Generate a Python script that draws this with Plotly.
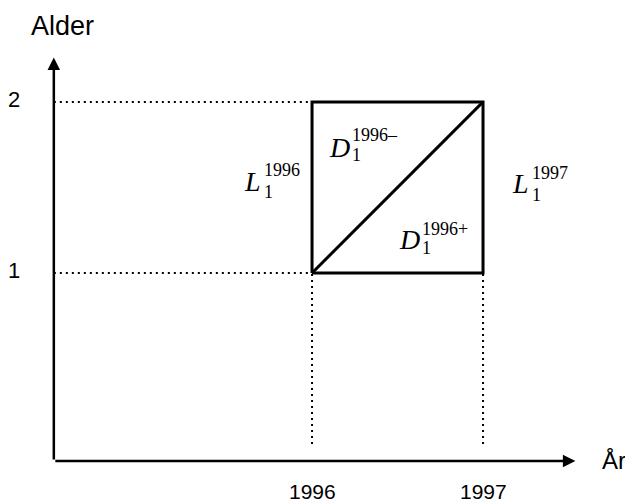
import plotly.graph_objects as go

# --- data ---
years = [1996, 1997]          # x tick values (År)
ages = [1, 2]                 # y tick values (Alder)
year_labels = ["1996", "1997"]
age_labels = ["1", "2"]
axis_origin = [1994.49, -0.10]
axis_end = [1997.54, 2.26]
x_range = [1994.222, 1997.877]
y_range = [-0.339, 2.549]

# Lexis labels: (letter, superscript, x_left, y_mid, sup_shift_x, sup_dy, sub_dy)
lexis_labels = [
    ("L", "1996", 1995.590, 1.5375, 20, 11, -11),
    ("D", "1996\u2013", 1996.088, 1.736, 23, 12, -8),
    ("D", "1996+", 1996.498, 1.195, 23, 11, -8),
    ("L", "1997", 1997.157, 1.523, 20, 11, -11),
]

SANS = "Liberation Sans, Arial, Helvetica, sans-serif"
SERIF = "Liberation Serif, Times New Roman, serif"
BLACK = "#000000"

fig = go.Figure()

# dotted guide lines
dot = dict(color=BLACK, width=2, dash="2px,4px")
for a in ages:
    fig.add_trace(go.Scatter(x=[axis_origin[0], years[0]], y=[a, a], mode="lines",
                             line=dot, hoverinfo="skip", showlegend=False))
for yv in years:
    fig.add_trace(go.Scatter(x=[yv, yv], y=[axis_origin[1] + 0.1, ages[0]], mode="lines",
                             line=dot, hoverinfo="skip", showlegend=False))

# square (Lexis cell)
fig.add_trace(go.Scatter(
    x=[years[0], years[1], years[1], years[0], years[0]],
    y=[ages[0], ages[0], ages[1], ages[1], ages[0]],
    mode="lines", line=dict(color=BLACK, width=3), hoverinfo="skip", showlegend=False))
# diagonal (cohort line)
fig.add_trace(go.Scatter(x=[years[0], years[1]], y=[ages[0], ages[1]], mode="lines",
                         line=dict(color=BLACK, width=3), hoverinfo="skip", showlegend=False))

annotations = []
# axes with arrows
annotations.append(dict(x=axis_end[0], y=axis_origin[1], ax=axis_origin[0], ay=axis_origin[1],
                        xref="x", yref="y", axref="x", ayref="y", text="", showarrow=True,
                        arrowhead=2, arrowsize=1, arrowwidth=2.5, arrowcolor=BLACK))
annotations.append(dict(x=axis_origin[0], y=axis_end[1], ax=axis_origin[0], ay=axis_origin[1],
                        xref="x", yref="y", axref="x", ayref="y", text="", showarrow=True,
                        arrowhead=2, arrowsize=1, arrowwidth=2.5, arrowcolor=BLACK))

# tick labels
for a, lab in zip(ages, age_labels):
    annotations.append(dict(x=1994.257, y=a, xref="x", yref="y", text=lab, showarrow=False,
                            xanchor="center", yanchor="middle", yshift=2,
                            font=dict(family=SANS, size=22, color=BLACK)))
for yv, lab in zip(years, year_labels):
    annotations.append(dict(x=yv, y=-0.275, xref="x", yref="y", text=lab, showarrow=False,
                            xanchor="center", yanchor="middle",
                            font=dict(family=SANS, size=21, color=BLACK)))

# axis titles
annotations.append(dict(x=1994.543, y=2.444, xref="x", yref="y", text="Alder", showarrow=False,
                        xanchor="center", yanchor="middle",
                        font=dict(family=SANS, size=27, color=BLACK)))
annotations.append(dict(x=1997.683, y=-0.094, xref="x", yref="y", text="År", showarrow=False,
                        xanchor="left", yanchor="middle",
                        font=dict(family=SANS, size=24, color=BLACK)))

# Lexis labels
for letter, sup, xl, ym, sx, sdy, bdy in lexis_labels:
    annotations.append(dict(x=xl, y=ym, xref="x", yref="y", text="<i>" + letter + "</i>",
                            showarrow=False, xanchor="left", yanchor="middle",
                            font=dict(family=SERIF, size=28, color=BLACK)))
    annotations.append(dict(x=xl, y=ym, xref="x", yref="y", text=sup, showarrow=False,
                            xanchor="left", yanchor="middle", xshift=sx, yshift=sdy,
                            font=dict(family=SERIF, size=18, color=BLACK)))
    annotations.append(dict(x=xl, y=ym, xref="x", yref="y", text="1", showarrow=False,
                            xanchor="left", yanchor="middle", xshift=sx, yshift=bdy,
                            font=dict(family=SERIF, size=18, color=BLACK)))

fig.update_layout(
    width=625, height=494,
    margin=dict(l=0, r=0, t=0, b=0),
    paper_bgcolor="white", plot_bgcolor="white",
    xaxis=dict(range=x_range, visible=False, fixedrange=True),
    yaxis=dict(range=y_range, visible=False, fixedrange=True),
    annotations=annotations,
    showlegend=False,
)

fig.write_html("out.html")
